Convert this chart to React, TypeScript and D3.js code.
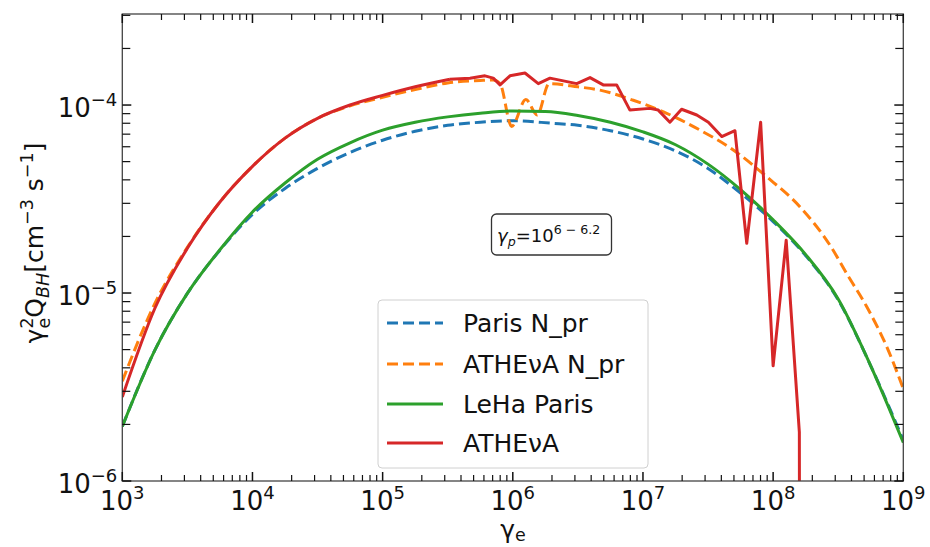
import React from 'react';
import * as d3 from 'd3';

// ---------- data ----------
const parisX = [1e3, 1.78e3, 3.16e3, 5.62e3, 1e4, 1.78e4, 3.16e4, 5.62e4, 1e5, 1.78e5, 3.16e5, 5.62e5, 1e6, 2e6, 3.16e6, 5.62e6, 1e7, 1.78e7, 3.16e7, 5.62e7, 1e8, 1.78e8, 3.16e8, 5.62e8, 1e9];
const parisNpr = [1.95e-6, 4.97e-6, 9.95e-6, 1.69e-5, 2.62e-5, 3.6e-5, 4.6e-5, 5.6e-5, 6.5e-5, 7.25e-5, 7.8e-5, 8.1e-5, 8.25e-5, 8.0e-5, 7.8e-5, 7.3e-5, 6.6e-5, 5.7e-5, 4.6e-5, 3.4e-5, 2.4e-5, 1.58e-5, 9.2e-6, 4.1e-6, 1.65e-6];

const lehaX = [1e3, 1.78e3, 3.16e3, 5.62e3, 1e4, 1.78e4, 3.16e4, 5.62e4, 1e5, 1.78e5, 3.16e5, 5.62e5, 1e6, 1.78e6, 3.16e6, 5.62e6, 1e7, 1.78e7, 3.16e7, 5.62e7, 1e8, 1.78e8, 3.16e8, 5.62e8, 1e9];
const lehaParis = [1.95e-6, 4.97e-6, 9.95e-6, 1.7e-5, 2.7e-5, 3.85e-5, 5.15e-5, 6.3e-5, 7.35e-5, 8.1e-5, 8.65e-5, 9.05e-5, 9.3e-5, 9.25e-5, 8.8e-5, 8.1e-5, 7.2e-5, 6.15e-5, 4.85e-5, 3.55e-5, 2.45e-5, 1.6e-5, 9.3e-6, 4.1e-6, 1.6e-6];

const athenaNprX = [1e3, 1.78e3, 3.16e3, 5.62e3, 1e4, 1.78e4, 3.16e4, 5.62e4, 1e5, 1.78e5, 3.16e5, 5.6e5, 7.08e5, 7.98e5, 9.8e5, 1.26e6, 1.54e6, 1.9e6, 3.16e6, 4.68e6, 8.43e6, 1.52e7, 2.74e7, 4.94e7, 8.9e7, 1.61e8, 2.8e8, 3.67e8, 5.24e8, 7.46e8, 1e9];
const athenaNpr = [3.4e-6, 8.8e-6, 1.75e-5, 3.05e-5, 4.72e-5, 6.67e-5, 8.5e-5, 9.9e-5, 1.1e-4, 1.21e-4, 1.31e-4, 1.35e-4, 1.36e-4, 1.30e-4, 7.7e-5, 1.07e-4, 8.85e-5, 1.30e-4, 1.25e-4, 1.20e-4, 1.06e-4, 9.04e-5, 7.36e-5, 5.77e-5, 4.16e-5, 2.87e-5, 1.75e-5, 1.27e-5, 8.45e-6, 5.18e-6, 3.1e-6];

// smooth low-energy part of ATHEvA
const athenaSmoothX = [1e3, 1.78e3, 3.16e3, 5.62e3, 1e4, 1.78e4, 3.16e4, 5.62e4, 1e5, 1.78e5, 3.29e5];
const athenaSmooth = [2.8e-6, 8.3e-6, 1.73e-5, 3.05e-5, 4.72e-5, 6.67e-5, 8.5e-5, 1.0e-4, 1.125e-4, 1.25e-4, 1.37e-4];
// jagged high-energy part of ATHEvA (straight segments)
const athenaJaggedX = [3.29e5, 4.69e5, 6.11e5, 7.08e5, 7.98e5, 9.51e5, 1.24e6, 1.57e6, 1.93e6, 3.1e6, 3.92e6, 4.95e6, 6.28e6, 7.94e6, 1.13e7, 1.31e7, 1.61e7, 1.98e7, 2.59e7, 3.18e7, 4.03e7, 5.09e7, 6.27e7, 8.02e7, 1.0e8, 1.26e8, 1.59e8, 1.6e8];
const athenaJagged = [1.37e-4, 1.39e-4, 1.43e-4, 1.39e-4, 1.28e-4, 1.43e-4, 1.48e-4, 1.30e-4, 1.39e-4, 1.30e-4, 1.40e-4, 1.28e-4, 1.28e-4, 9.4e-5, 9.6e-5, 9.4e-5, 8.1e-5, 9.5e-5, 8.85e-5, 8.1e-5, 6.8e-5, 7.3e-5, 1.84e-5, 8.1e-5, 4.1e-6, 1.91e-5, 1.82e-6, 1e-7];

const xDecades = [3, 4, 5, 6, 7, 8, 9];
const yDecades = [-6, -5, -4];
const legendLabels = ['Paris N_pr', 'ATHEνA N_pr', 'LeHa Paris', 'ATHEνA'];

const COLORS = { blue: '#1f77b4', orange: '#ff7f0e', green: '#2ca02c', red: '#d62728' };
const FONT = 'DejaVu Sans, sans-serif';

export default function App() {
  const W = 930, H = 547;
  const left = 122.3, right = 903.3, top = 14, bottom = 481;
  const x = d3.scaleLog().domain([1e3, 1e9]).range([left, right]);
  const y = d3.scaleLog().domain([1e-6, 3.05e-4]).range([bottom, top]);

  const pts = (xs: number[], ys: number[]) => xs.map((v, i) => [v, ys[i]] as [number, number]);
  const smooth = d3.line<[number, number]>().x(d => x(d[0])).y(d => y(d[1])).curve(d3.curveMonotoneX);
  const straight = d3.line<[number, number]>().x(d => x(d[0])).y(d => y(d[1]));

  const xMinor: number[] = [];
  xDecades.slice(0, -1).forEach(d => { for (let k = 2; k <= 9; k++) xMinor.push(k * Math.pow(10, d)); });
  const yMinor: number[] = [];
  yDecades.forEach(d => { for (let k = 2; k <= 9; k++) { const v = k * Math.pow(10, d); if (v <= 3.05e-4) yMinor.push(v); } });

  const MAJ = 9, MIN = 6;
  const tickFs = 26;
  const sup = 18;

  const legendX = 378, legendY = 300;
  const rows = [323, 364, 404, 443];
  const legendStyles = [
    { c: COLORS.blue, dash: '11,5' },
    { c: COLORS.orange, dash: '11,5' },
    { c: COLORS.green, dash: undefined },
    { c: COLORS.red, dash: undefined },
  ];

  return (
    <svg width={W} height={H} style={{ position: 'absolute', left: 0, top: 0, background: '#fff' }} fontFamily={FONT}>
      <defs>
        <clipPath id="plotclip">
          <rect x={left} y={top} width={right - left} height={bottom - top} />
        </clipPath>
      </defs>
      <rect x={0} y={0} width={W} height={H} fill="#fff" />

      <g clipPath="url(#plotclip)" fill="none" strokeWidth={3}>
        <path d={smooth(pts(parisX, parisNpr)) || ''} stroke={COLORS.blue} strokeDasharray="11,5" />
        <path d={smooth(pts(athenaNprX, athenaNpr)) || ''} stroke={COLORS.orange} strokeDasharray="11,5" />
        <path d={smooth(pts(lehaX, lehaParis)) || ''} stroke={COLORS.green} />
        <path d={smooth(pts(athenaSmoothX, athenaSmooth)) || ''} stroke={COLORS.red} />
        <path d={straight(pts(athenaJaggedX, athenaJagged)) || ''} stroke={COLORS.red} strokeLinejoin="round" />
      </g>

      {/* frame */}
      <rect x={left} y={top} width={right - left} height={bottom - top} fill="none" stroke="#444" strokeWidth={1.3} />

      {/* ticks on all four sides, pointing inwards */}
      <g stroke="#111">
        {xDecades.map(d => {
          const px = x(Math.pow(10, d));
          return (
            <g key={'xM' + d} strokeWidth={1.5}>
              <line x1={px} x2={px} y1={bottom} y2={bottom - MAJ} />
              <line x1={px} x2={px} y1={top} y2={top + MAJ} />
            </g>
          );
        })}
        {xMinor.map((v, i) => {
          const px = x(v);
          return (
            <g key={'xm' + i} strokeWidth={1.2}>
              <line x1={px} x2={px} y1={bottom} y2={bottom - MIN} />
              <line x1={px} x2={px} y1={top} y2={top + MIN} />
            </g>
          );
        })}
        {yDecades.map(d => {
          const py = y(Math.pow(10, d));
          return (
            <g key={'yM' + d} strokeWidth={1.5}>
              <line x1={left} x2={left + MAJ} y1={py} y2={py} />
              <line x1={right} x2={right - MAJ} y1={py} y2={py} />
            </g>
          );
        })}
        {yMinor.map((v, i) => {
          const py = y(v);
          return (
            <g key={'ym' + i} strokeWidth={1.2}>
              <line x1={left} x2={left + MAJ - 1} y1={py} y2={py} />
              <line x1={right} x2={right - MAJ + 1} y1={py} y2={py} />
            </g>
          );
        })}
      </g>

      {/* tick labels */}
      <g fontSize={tickFs} fill="#111">
        {xDecades.map(d => (
          <text key={'xl' + d} x={x(Math.pow(10, d))} y={bottom + 29} textAnchor="middle">
            10<tspan dy={-11} fontSize={sup}>{String(d)}</tspan>
          </text>
        ))}
        {yDecades.map(d => (
          <text key={'yl' + d} x={left - 5} y={y(Math.pow(10, d)) + 12} textAnchor="end">
            10<tspan dy={-11} fontSize={sup}>{'\u2212' + String(-d)}</tspan>
          </text>
        ))}
      </g>

      {/* axis labels */}
      <text x={513} y={538} textAnchor="middle" fontSize={25} fill="#111">
        γ<tspan dy={3} fontSize={17.5}>e</tspan>
      </text>
      <text transform="translate(43,243) rotate(-90)" textAnchor="middle" fontSize={25} fill="#111">
        γ
        <tspan dy={-10} fontSize={17.5}>2</tspan>
        <tspan dx={-11} dy={17} fontSize={17.5}>e</tspan>
        <tspan dy={-7}>Q</tspan>
        <tspan dy={6} fontSize={17.5} fontStyle="italic">BH</tspan>
        <tspan dy={-6}>[cm</tspan>
        <tspan dy={-10} fontSize={17.5}>{'\u22123'}</tspan>
        <tspan dy={10}>{' s'}</tspan>
        <tspan dy={-10} fontSize={17.5}>{'\u22121'}</tspan>
        <tspan dy={10}>]</tspan>
      </text>

      {/* annotation */}
      <rect x={491.5} y={214} width={120} height={41} rx={5} fill="#fff" stroke="#333" strokeWidth={1.3} />
      <text x={497} y={242} fontSize={18} fill="#111">
        <tspan fontStyle="italic">γ</tspan>
        <tspan dy={4} fontSize={12.6} fontStyle="italic">p</tspan>
        <tspan dy={-4}>=10</tspan>
        <tspan dy={-8} fontSize={12.6}>{'6 \u2212 6.2'}</tspan>
      </text>

      {/* legend */}
      <rect x={legendX} y={legendY} width={270} height={168} rx={4} fill="#fff" fillOpacity={0.8} stroke="#d0d0d0" strokeWidth={1} />
      {legendLabels.map((lab, i) => (
        <g key={'lg' + i}>
          <line x1={387} x2={443} y1={rows[i]} y2={rows[i]} stroke={legendStyles[i].c} strokeWidth={3} strokeDasharray={legendStyles[i].dash} />
          <text x={463} y={rows[i] + 9} fontSize={25} fill="#111">{lab}</text>
        </g>
      ))}
    </svg>
  );
}
